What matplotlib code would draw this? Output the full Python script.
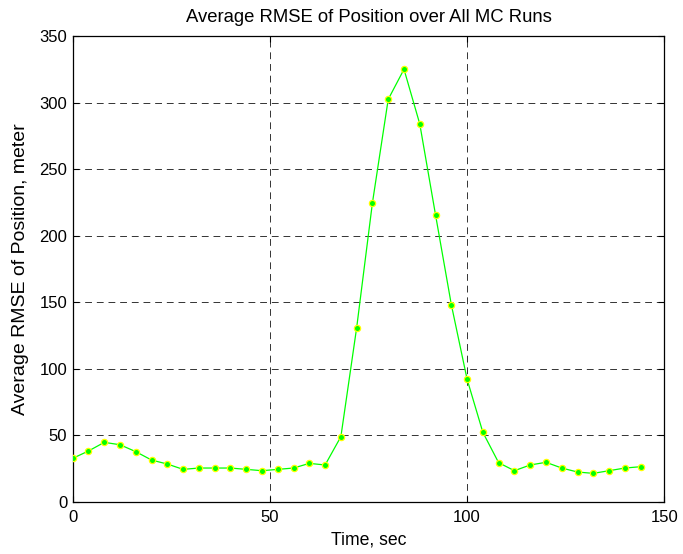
import matplotlib
matplotlib.use("Agg")
import matplotlib.pyplot as plt

plt.rcParams['font.family'] = ['Liberation Sans', 'DejaVu Sans']

time_sec = [0, 4, 8, 12, 16, 20, 24, 28, 32, 36, 40, 44, 48, 52, 56, 60, 64, 68,
            72, 76, 80, 84, 88, 92, 96, 100, 104, 108, 112, 116, 120, 124, 128,
            132, 136, 140, 144]
rmse_pos = [32.6, 38.1, 44.6, 42.8, 37.6, 31.3, 28.3, 24.3, 25.3, 25.3, 25.3, 24.3,
            23.3, 24.3, 25.3, 28.8, 27.6, 48.9, 130.8, 224.7, 302.4, 325.0, 283.9,
            215.5, 148.1, 92.0, 52.1, 29.3, 23.3, 27.6, 29.6, 25.3, 22.3, 21.3,
            23.3, 25.3, 26.3]

xticks = [0, 50, 100, 150]
yticks = [0, 50, 100, 150, 200, 250, 300, 350]

fig = plt.figure(figsize=(6.83, 5.54), dpi=100)
ax = fig.add_axes([72.7 / 683, 1 - 501.7 / 554, (664.3 - 72.7) / 683, (501.7 - 36) / 554])

ax.plot(time_sec, rmse_pos, color='#00ff00', lw=0.9, marker='o', markersize=4.5,
        markerfacecolor='#00ff00', markeredgecolor='#ffff00', markeredgewidth=0.9,
        zorder=3)

ax.set_xlim(0, 150)
ax.set_ylim(0, 350)
ax.set_xticks(xticks)
ax.set_yticks(yticks)
ax.grid(True, color='#333333', linestyle=(0, (7, 5)), linewidth=0.7)
ax.tick_params(direction='in', length=4, width=0.8, top=True, right=True,
               labelsize=12)
ax.tick_params(axis='x', pad=6)
ax.tick_params(axis='y', pad=4)
for s in ax.spines.values():
    s.set_linewidth(0.9)

ax.set_title('Average RMSE of Position over All MC Runs', fontsize=13.3, pad=10)
ax.set_xlabel('Time, sec', fontsize=12.7, labelpad=4.7)
ax.set_ylabel('Average RMSE of Position, meter', fontsize=14, labelpad=7.7)

fig.savefig('out.png', dpi=100)
